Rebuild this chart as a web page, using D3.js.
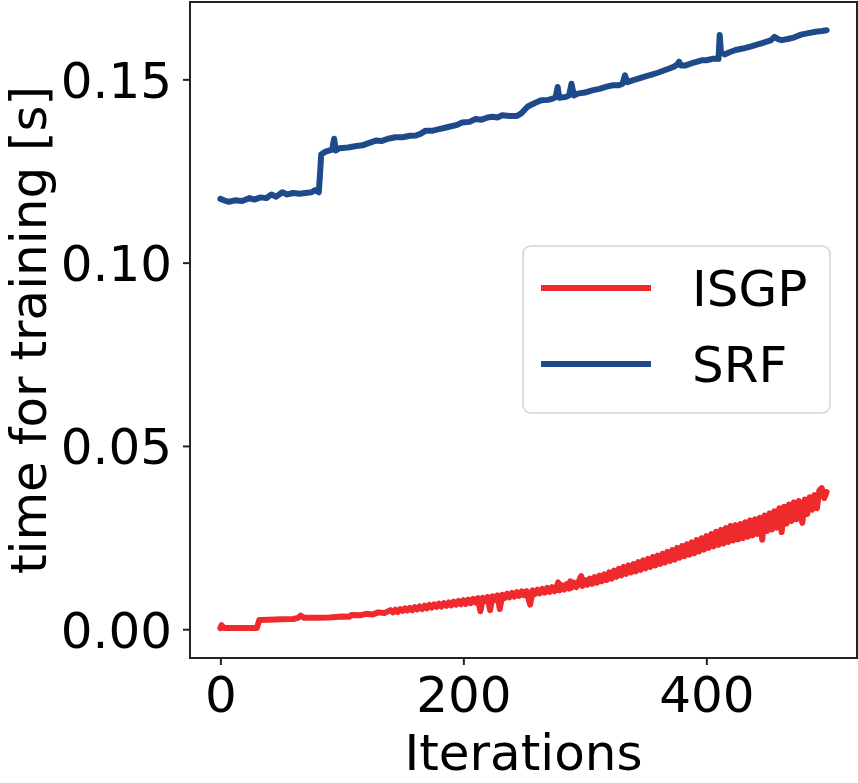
<!DOCTYPE html>
<html>
<head>
  <meta charset="utf-8">
  <title>Training time</title>
  <style>
    body { margin: 0; background: #fff; }
    text { font-family: "DejaVu Sans", sans-serif; fill: #000; }
    .axis text { font-size: 50px; }
    .axis line { stroke: #222; stroke-width: 2; }
    .axis path { display: none; }
    .frame { fill: none; stroke: #222; stroke-width: 2; }
    .series { fill: none; stroke-width: 6; stroke-linejoin: round; stroke-linecap: round; }
  </style>
  <script src="https://d3js.org/d3.v7.min.js"></script>
</head>
<body>
  <div id="chart"></div>
  <script>
    // values, [iteration, seconds]
    const isgp = [
      [0,0.0003],[1,0.0011],[3,0.0003],[10,0.0003],[20,0.0003],[30,0.0003],[32,0.0025],[40,0.0026],
      [50,0.0027],[60,0.0028],[64,0.0031],[66,0.0037],[69,0.0031],[80,0.0031],[90,0.0032],[100,0.0035],
      [106,0.0034],[108,0.0039],[115,0.0038],[120,0.0042],[125,0.0040],[130,0.0046],[135,0.0044],
      [140,0.0052],[142,0.0046],[144,0.0053],[146,0.0047],[148,0.0055],[150,0.0050],[152,0.0057],[154,0.0051],
      [156,0.0058],[158,0.0052],[160,0.0060],[162,0.0054],[164,0.0062],[166,0.0055],[168,0.0064],[170,0.0057],
      [172,0.0066],[174,0.0059],[176,0.0068],[178,0.0061],[180,0.0070],[182,0.0062],[184,0.0071],[186,0.0064],
      [188,0.0073],[190,0.0065],[192,0.0075],[194,0.0067],[196,0.0077],[198,0.0068],[200,0.0079],[202,0.0069],
      [204,0.0081],[206,0.0071],[208,0.0083],[210,0.0073],[212,0.0085],[214,0.0049],[216,0.0086],[218,0.0077],
      [220,0.0088],[222,0.0052],[224,0.0090],[226,0.0080],[228,0.0092],[230,0.0055],[232,0.0094],[234,0.0085],
      [236,0.0097],[238,0.0087],[240,0.0099],[242,0.0089],[244,0.0101],[246,0.0091],[248,0.0103],[250,0.0093],
      [252,0.0104],[255,0.0067],[257,0.0106],[259,0.0096],[261,0.0108],[263,0.0098],[265,0.0110],[267,0.0100],
      [269,0.0113],[271,0.0102],[273,0.0115],[275,0.0104],[277,0.0117],[278,0.0128],[279,0.0106],[281,0.0120],
      [283,0.0108],[285,0.0123],[287,0.0111],[288,0.0131],[289,0.0113],[291,0.0127],[293,0.0115],[295,0.0130],
      [297,0.0145],[298,0.0118],[300,0.0134],[302,0.0121],[304,0.0138],[306,0.0124],[308,0.0142],[310,0.0127],
      [312,0.0146],[314,0.0131],[316,0.0150],[318,0.0134],[320,0.0155],[322,0.0138],[324,0.0160],[326,0.0143],
      [328,0.0165],[330,0.0147],[332,0.0170],[334,0.0151],[336,0.0174],[338,0.0155],[340,0.0178],[342,0.0158],
      [344,0.0183],[346,0.0162],[348,0.0188],[350,0.0166],[352,0.0192],[354,0.0170],[356,0.0197],[358,0.0174],
      [360,0.0201],[362,0.0178],[364,0.0206],[366,0.0182],[368,0.0211],[370,0.0186],[372,0.0216],[374,0.0190],
      [376,0.0222],[378,0.0195],[380,0.0227],[382,0.0199],[384,0.0232],[386,0.0203],[388,0.0237],[390,0.0207],
      [392,0.0243],[394,0.0212],[396,0.0248],[398,0.0217],[400,0.0254],[402,0.0222],[404,0.0260],[406,0.0226],
      [408,0.0266],[410,0.0230],[412,0.0271],[414,0.0234],[416,0.0276],[418,0.0238],[420,0.0282],[422,0.0242],
      [424,0.0284],[426,0.0245],[428,0.0287],[430,0.0248],[432,0.0292],[434,0.0252],[436,0.0297],[438,0.0256],
      [440,0.0300],[442,0.0260],[444,0.0304],[446,0.0244],[448,0.0310],[450,0.0268],[452,0.0316],[454,0.0272],
      [456,0.0322],[458,0.0277],[460,0.0330],[462,0.0265],[464,0.0334],[466,0.0288],[468,0.0340],[470,0.0295],
      [472,0.0346],[474,0.0300],[476,0.0350],[478,0.0306],[479,0.0290],[481,0.0354],[483,0.0314],[485,0.0360],
      [487,0.0326],[489,0.0366],[491,0.0330],[493,0.0378],[495,0.0385],[497,0.0358],[499,0.0374]
    ];

    const srf = [
      [0,0.1174],[3,0.1170],[7,0.1166],[12,0.1170],[18,0.1168],[24,0.1176],[28,0.1172],[33,0.1178],
      [38,0.1176],[42,0.1186],[46,0.1180],[51,0.1192],[55,0.1186],[60,0.1190],[65,0.1188],[70,0.1190],
      [75,0.1192],[78,0.1198],[81,0.1192],[82,0.1240],[83,0.1295],[86,0.1302],[90,0.1306],[92,0.1308],
      [93.6,0.1338],[95,0.1306],[98,0.1312],[105,0.1314],[112,0.1318],[117,0.1320],[122,0.1326],[128,0.1333],
      [133,0.1332],[138,0.1338],[144,0.1342],[150,0.1342],[156,0.1346],[161,0.1347],[165,0.1352],[169,0.1360],
      [175,0.1360],[180,0.1364],[185,0.1368],[190,0.1372],[195,0.1376],[199,0.1382],[205,0.1384],[210,0.1392],
      [215,0.1390],[220,0.1396],[224,0.1398],[228,0.1396],[232,0.1402],[238,0.1400],[244,0.1400],[248,0.1408],
      [253,0.1426],[258,0.1434],[264,0.1443],[270,0.1444],[274,0.1448],[276,0.1452],[277.6,0.1479],[279,0.1450],
      [284,0.1452],[287,0.1456],[289,0.1488],[291,0.1456],[294,0.1461],[300,0.1464],[306,0.1470],[312,0.1474],
      [318,0.1480],[323,0.1484],[328,0.1484],[331,0.1488],[333,0.1511],[335,0.1492],[340,0.1498],[346,0.1504],
      [350,0.1508],[355,0.1513],[360,0.1518],[365,0.1524],[369,0.1529],[373,0.1534],[376,0.1540],[377.6,0.1548],
      [379,0.1538],[383,0.1538],[388,0.1544],[392,0.1548],[396,0.1552],[400,0.1552],[405,0.1556],[410,0.1556],
      [411,0.1621],[412,0.1575],[415,0.1568],[419,0.1574],[424,0.1580],[430,0.1584],[437,0.1590],[443,0.1596],
      [449,0.1602],[453,0.1606],[456,0.1616],[459,0.1610],[462,0.1607],[467,0.1610],[472,0.1614],[478,0.1622],
      [484,0.1626],[490,0.1630],[495,0.1632],[499,0.1634]
    ];

    const seriesNames = ["ISGP", "SRF"];
    const seriesColors = ["#ef2a2d", "#1f4a8a"];
    const xTicks = [0, 200, 400];
    const yTicks = [0.00, 0.05, 0.10, 0.15];

    const width = 858;
    const height = 783;
    const margin = { top: 2, right: 1, bottom: 125, left: 190 };
    const innerW = width - margin.left - margin.right;
    const innerH = height - margin.top - margin.bottom;

    const svg = d3.select("#chart")
      .append("svg")
      .attr("width", width)
      .attr("height", height);

    const g = svg.append("g")
      .attr("transform", `translate(${margin.left},${margin.top})`);

    const x = d3.scaleLinear()
      .domain([-25, 524])
      .range([0, innerW]);

    const y = d3.scaleLinear()
      .domain([-0.00785, 0.1711])
      .range([innerH, 0]);

    const line = d3.line()
      .x(d => x(d[0]))
      .y(d => y(d[1]));

    [isgp, srf].forEach((data, i) => {
      g.append("path")
        .datum(data)
        .attr("class", "series")
        .attr("stroke", seriesColors[i])
        .attr("d", line);
    });

    // axes
    g.append("g")
      .attr("class", "axis axis-x")
      .attr("transform", `translate(0,${innerH})`)
      .call(d3.axisBottom(x).tickValues(xTicks).tickSize(7).tickPadding(4).tickFormat(d3.format("d")))
      .selectAll("text")
      .attr("dy", null)
      .attr("y", 54);

    g.append("g")
      .attr("class", "axis axis-y")
      .call(d3.axisLeft(y).tickValues(yTicks).tickSize(7).tickPadding(11).tickFormat(d3.format(".2f")))
      .selectAll("text")
      .attr("dy", "0.36em");

    g.append("rect")
      .attr("class", "frame")
      .attr("width", innerW)
      .attr("height", innerH);

    svg.append("text")
      .attr("x", margin.left + innerW / 2)
      .attr("y", 770)
      .attr("text-anchor", "middle")
      .style("font-size", "50px")
      .text("Iterations");

    svg.append("text")
      .attr("transform", `translate(46,${margin.top + innerH / 2}) rotate(-90)`)
      .attr("text-anchor", "middle")
      .style("font-size", "50px")
      .text("time for training [s]");

    // legend
    const legend = svg.append("g")
      .attr("transform", "translate(523,246)");

    legend.append("rect")
      .attr("width", 307)
      .attr("height", 167)
      .attr("rx", 8)
      .attr("fill", "#fff")
      .attr("fill-opacity", 0.8)
      .attr("stroke", "#d3d3d3")
      .attr("stroke-width", 1.5);

    seriesNames.forEach((name, i) => {
      const ly = 42 + i * 76;
      legend.append("line")
        .attr("x1", 18)
        .attr("x2", 128)
        .attr("y1", ly)
        .attr("y2", ly)
        .attr("stroke", seriesColors[i])
        .attr("stroke-width", 6);
      legend.append("text")
        .attr("x", 169)
        .attr("y", ly)
        .attr("dy", "0.36em")
        .style("font-size", "50px")
        .text(name);
    });
  </script>
</body>
</html>
